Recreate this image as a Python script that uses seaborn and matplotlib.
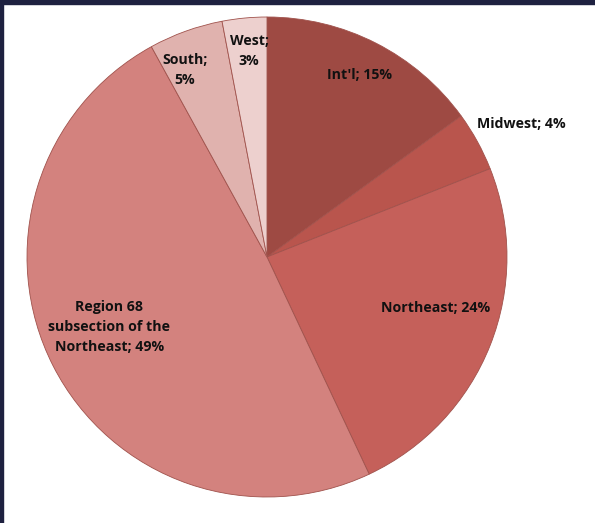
import numpy as np
import matplotlib
matplotlib.use('Agg')
import matplotlib.pyplot as plt
import seaborn as sns

# Data
regions = ["Int'l", "Midwest", "Northeast", "Region 68\nsubsection of the\nNortheast", "South", "West"]
shares = [15, 4, 24, 49, 5, 3]
colors = ['#9e4a43', '#b9554d', '#c5605a', '#d3827e', '#e0b2ae', '#edd0ce']

# label placement: distance from center (fraction of radius) and angle shift from wedge middle
label_r = [0.85, 1.195, 0.735, 0.72, 0.85, 0.86]
label_shift = [0, -1.2, 4.8, -3, 4, -0.4]

sns.set_theme(style='white')
plt.rcParams['font.family'] = ['Open Sans', 'DejaVu Sans']

fig = plt.figure(figsize=(5.95, 5.23), dpi=100)
fig.patch.set_facecolor('white')

# dark frame on top and left like the screenshot
fig.add_artist(plt.Rectangle((0, 1 - 4/523), 1, 4/523, transform=fig.transFigure, color='#1e2140', zorder=10))
fig.add_artist(plt.Rectangle((0, 0), 3/595, 1, transform=fig.transFigure, color='#1e2140', zorder=10))

ax = fig.add_axes([27/595, 26/523, 480/595, 480/523])
wedges, _ = ax.pie(shares, colors=colors, startangle=90, counterclock=False,
                   radius=1, wedgeprops=dict(edgecolor='#a0524c', linewidth=0.6))
ax.set_xlim(-1, 1)
ax.set_ylim(-1, 1)
ax.set_aspect('equal')
ax.axis('off')

for w, name, val, r, sh in zip(wedges, regions, shares, label_r, label_shift):
    ang = np.deg2rad((w.theta1 + w.theta2) / 2 + sh)
    if name in ("South", "West"):
        txt = f"{name};\n{val}%"
    else:
        txt = f"{name}; {val}%"
    ax.text(r * np.cos(ang), r * np.sin(ang), txt, ha='center', va='center',
            fontsize=10.2, fontweight='bold', color='#111111', linespacing=1.55,
            clip_on=False)

plt.savefig('out.png', dpi=100)
